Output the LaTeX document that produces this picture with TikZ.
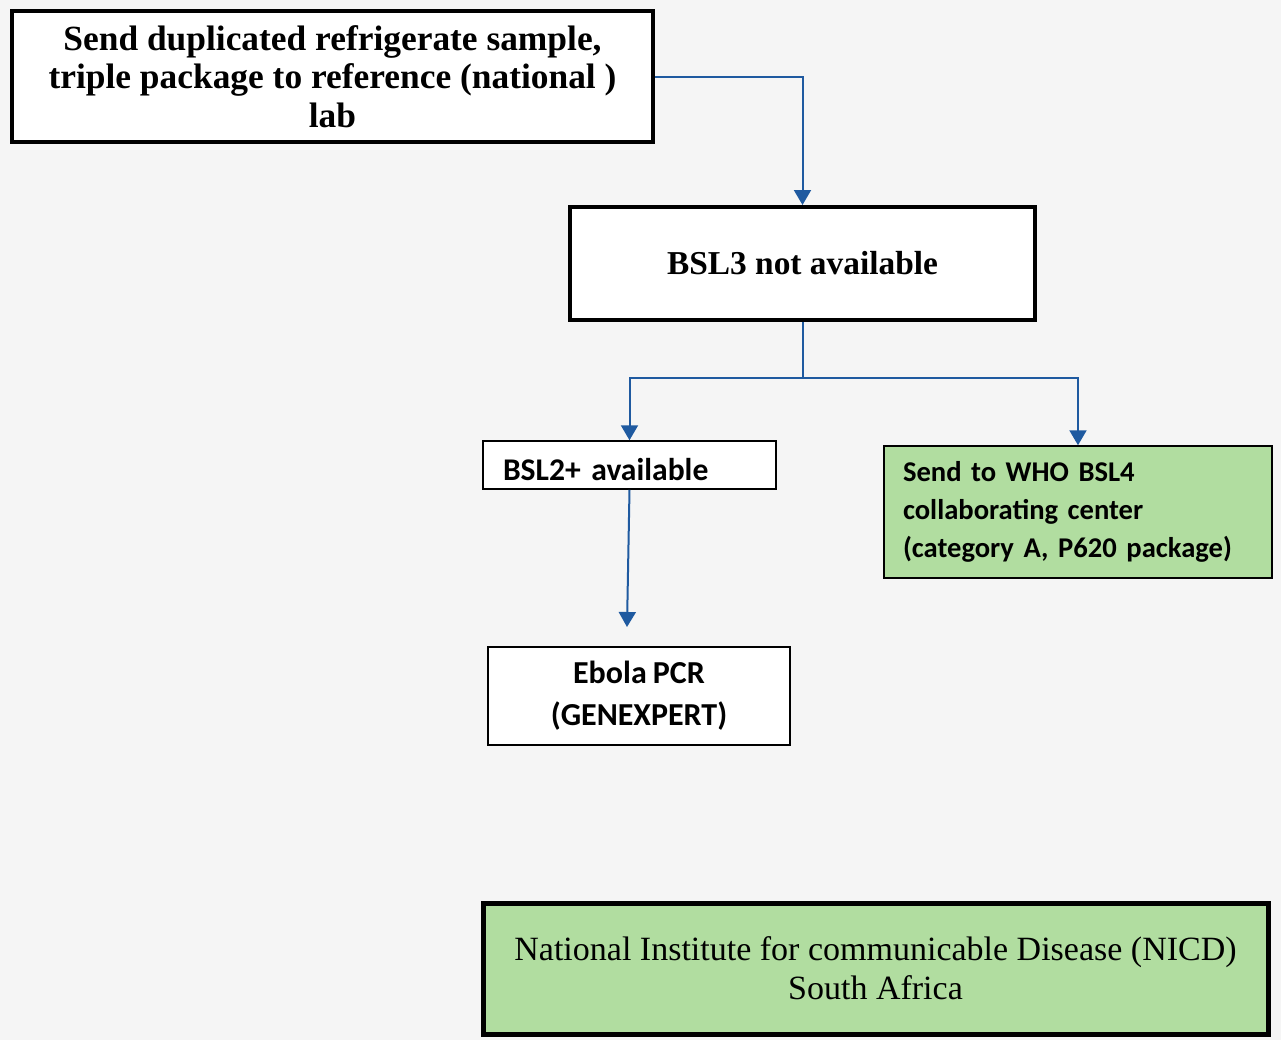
\documentclass[tikz,border=0pt]{standalone}
\usepackage{fontspec}
\setmainfont{Liberation Serif}
\newfontfamily\calibfont[WordSpace=0.85]{Carlito}
\usetikzlibrary{arrows.meta}
\definecolor{pagec}{HTML}{F5F5F5}
\definecolor{flowc}{HTML}{1F5AA0}
\definecolor{labc}{HTML}{B1DDA0}

\begin{document}
\begin{tikzpicture}[x=0.5pt, y=-0.5pt,
  heavybox/.style={draw=black, line width=2pt, fill=white, align=center, inner sep=0pt},
  lightbox/.style={draw=black, line width=0.75pt, fill=white, inner sep=0pt},
  flow/.style={draw=flowc, line width=1pt, -{Triangle[width=8.5pt,length=7.5pt]}},
  serifbold/.style={font=\bfseries\fontsize{17.7}{19.25}\selectfont},
  calbold/.style={font=\calibfont\bfseries\fontsize{14.3}{19}\selectfont}]
  \fill[pagec] (0,0) rectangle (1281,1040);
  \useasboundingbox (0,0) rectangle (1281,1040);
  % boxes
  \node[heavybox, serifbold, minimum width=320.5pt, minimum height=65.5pt] (ship) at (332.5,76.5)
    {Send duplicated refrigerate sample,\\triple package to reference (national )\\lab};
  \node[heavybox, font=\bfseries\fontsize{16.7}{19.25}\selectfont, minimum width=232.5pt, minimum height=56.5pt] (bsl3) at (802.5,263.5)
    {BSL3 not available};
  \node[lightbox, font=\calibfont\bfseries\fontsize{15.8}{19}\selectfont, align=left, inner xsep=10pt, text width=126.5pt,
    text height=17.5pt, text depth=2pt, minimum height=24pt] (bsl2) at (629.5,465)
    {BSL2+ available};
  \node[lightbox, calbold, fill=labc, align=left, inner xsep=9.5pt, text width=175pt, minimum height=66pt] (who) at (1078,512)
    {Send to WHO BSL4\\collaborating center\\(category A, P620 package)};
  \node[lightbox, align=center, font=\calibfont\bfseries\fontsize{16}{21}\selectfont, minimum width=151pt, minimum height=49pt] (pcr) at (639,696)
    {Ebola PCR\\(GENEXPERT)};
  \node[heavybox, line width=2.5pt, fill=labc, font=\fontsize{17}{19.5}\selectfont, minimum width=392.5pt, minimum height=65.5pt] (nicd) at (875.5,968.5)
    {National Institute for communicable Disease (NICD)\\South Africa};
  % connectors
  \coordinate (split) at (802.5,378);
  \coordinate (pcrin) at (627,627);
  \draw[flow] (ship.east) -| (bsl3.north);
  \draw[flowc, line width=1pt] (bsl3.south) -- (split);
  \draw[flow] (split) -| (bsl2.north);
  \draw[flow] (split) -| (who.north);
  \draw[flow] (bsl2.south) -- (pcrin);
\end{tikzpicture}
\end{document}
